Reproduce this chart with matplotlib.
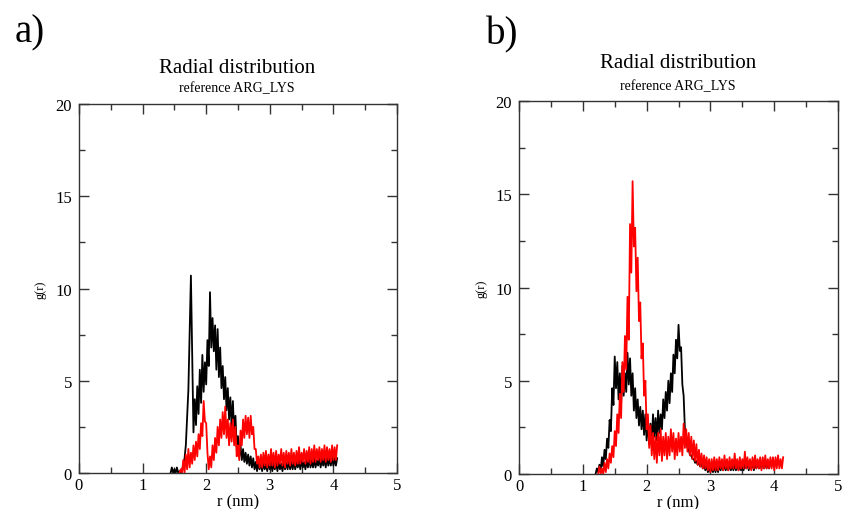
import numpy as np
import matplotlib
matplotlib.use("Agg")
import matplotlib.pyplot as plt

plt.rcParams["font.family"] = ["Liberation Serif", "DejaVu Serif"]

STEP = 0.02

# panel a) black curve, starts at r = 1.44
a_black_start = 1.44
a_black = [
    0.0, 0.3, 0.0, 0.2, 0.0, 0.3, 0.0, 0.1, 0.0, 0.2,
    0.4, 0.8, 1.5, 3.0, 4.5, 7.5, 10.7, 6.5, 2.2, 4.0,
    2.6, 4.7, 3.2, 5.6, 3.8, 6.4, 4.4, 6.0, 4.8, 7.2,
    5.8, 9.8, 6.8, 8.4, 6.6, 8.0, 5.6, 7.8, 5.2, 6.8,
    4.6, 5.8, 4.0, 5.2, 3.4, 4.6, 2.9, 4.1, 2.5, 3.9,
    2.1, 3.1, 1.4, 2.0, 0.9, 1.5, 0.7, 1.3, 0.6, 1.1,
    0.5, 1.0, 0.4, 0.9, 0.3, 0.8, 0.2, 0.6, 0.1, 0.6,
    0.2, 0.6, 0.1, 0.6, 0.2, 0.5, 0.1, 0.6, 0.2, 0.6,
    0.1, 0.5, 0.2, 0.6, 0.1, 0.6, 0.2, 0.5, 0.1, 0.6,
    0.2, 0.6, 0.2, 0.7, 0.2, 0.6, 0.2, 0.7, 0.2, 0.6,
    0.3, 0.7, 0.2, 0.7, 0.3, 0.6, 0.2, 0.7, 0.3, 0.8,
    0.3, 0.7, 0.3, 0.8, 0.3, 0.7, 0.4, 0.8, 0.3, 0.8,
    0.4, 0.8, 0.3, 0.9, 0.4, 0.8, 0.4, 0.9, 0.4, 0.8,
    0.4, 0.8,
]

# panel a) red curve, starts at r = 1.58
a_red_start = 1.58
a_red = [
    0.0, 0.2, 0.0, 0.7, 0.0, 1.0, 0.2, 1.3, 0.3, 1.1,
    0.5, 1.5, 0.7, 1.7, 0.9, 2.1, 1.3, 2.7, 2.0, 3.9,
    2.8, 2.7, 1.1, 0.2, 0.9, 0.3, 1.5, 0.7, 1.9, 1.1,
    2.5, 1.5, 2.9, 1.9, 3.3, 2.1, 3.6, 1.9, 2.9, 1.5,
    2.7, 1.7, 2.9, 1.5, 2.5, 0.9, 1.5, 0.7, 2.3, 1.5,
    2.9, 1.9, 3.1, 2.1, 3.0, 1.9, 3.1, 2.1, 2.5, 1.3,
    1.3, 0.5, 0.9, 0.3, 1.0, 0.3, 1.1, 0.4, 1.2, 0.3,
    1.0, 0.4, 1.3, 0.4, 1.1, 0.3, 1.2, 0.4, 1.0, 0.5,
    1.3, 0.4, 1.1, 0.3, 1.2, 0.5, 1.1, 0.4, 1.3, 0.5,
    1.1, 0.4, 1.2, 0.5, 1.4, 0.5, 1.1, 0.6, 1.3, 0.5,
    1.2, 0.6, 1.4, 0.5, 1.3, 0.6, 1.5, 0.6, 1.3, 0.7,
    1.4, 0.6, 1.3, 0.7, 1.5, 0.6, 1.4, 0.7, 1.3, 0.6,
    1.5, 0.7, 1.4, 0.7, 1.5,
]

# panel b) black curve, starts at r = 1.20
b_black_start = 1.20
b_black = [
    0.0, 0.3, 0.1, 0.5, 0.2, 0.9, 0.4, 1.3, 0.8, 1.9,
    1.4, 2.9, 2.3, 4.6, 3.7, 6.3, 4.6, 6.0, 4.0, 5.4,
    3.8, 5.8, 4.2, 5.4, 4.4, 6.5, 4.8, 6.2, 4.2, 5.4,
    3.4, 4.6, 3.0, 4.0, 2.6, 3.6, 2.4, 3.4, 2.1, 3.2,
    1.8, 2.9, 1.6, 2.7, 1.7, 3.2, 2.0, 3.0, 1.8, 3.4,
    2.2, 3.2, 2.4, 4.0, 3.0, 4.4, 3.4, 5.0, 3.8, 5.4,
    4.4, 6.4, 5.4, 7.2, 6.2, 8.0, 6.6, 6.8, 4.8, 4.2,
    2.4, 2.0, 1.4, 1.3, 1.0, 1.0, 0.8, 0.8, 0.6, 0.7,
    0.5, 0.6, 0.4, 0.6, 0.3, 0.5, 0.2, 0.5, 0.1, 0.4,
    0.1, 0.4, 0.1, 0.4, 0.1, 0.5, 0.1, 0.5, 0.2, 0.5,
    0.2, 0.5, 0.2, 0.5, 0.2, 0.6, 0.2, 0.5, 0.2, 0.6,
    0.2, 0.6, 0.2, 0.5, 0.2, 0.6, 0.2, 0.6, 0.3, 0.6,
    0.2, 0.6, 0.3, 0.7, 0.2, 0.6, 0.3, 0.7, 0.3, 0.6,
    0.3, 0.7, 0.3, 0.7, 0.3, 0.6, 0.3, 0.6,
]

# panel b) red curve, starts at r = 1.24
b_red_start = 1.24
b_red = [
    0.0, 0.4, 0.0, 0.3, 0.0, 0.6, 0.1, 0.8, 0.3, 1.1,
    0.6, 1.5, 0.9, 2.3, 1.5, 3.2, 2.2, 4.3, 3.0, 6.0,
    4.4, 7.4, 5.6, 9.5, 7.2, 13.4, 10.8, 15.7, 12.2, 13.2,
    9.8, 11.6, 8.2, 9.2, 6.2, 7.0, 4.2, 5.0, 2.4, 3.2,
    1.4, 2.6, 1.0, 2.2, 0.8, 2.0, 0.6, 2.2, 1.0, 2.4,
    0.7, 2.0, 1.0, 2.2, 0.8, 2.0, 1.0, 2.4, 1.2, 2.2,
    0.8, 1.9, 1.0, 2.2, 1.2, 2.0, 1.0, 2.7, 1.4, 2.4,
    1.2, 2.2, 1.0, 2.0, 0.8, 1.8, 0.7, 1.6, 0.5, 1.3,
    0.4, 1.1, 0.3, 1.0, 0.3, 0.9, 0.2, 0.8, 0.1, 0.8,
    0.2, 0.9, 0.2, 0.8, 0.2, 0.9, 0.3, 0.8, 0.2, 1.0,
    0.3, 0.8, 0.2, 0.9, 0.3, 0.8, 0.3, 1.1, 0.3, 0.8,
    0.2, 0.9, 0.3, 0.8, 0.3, 1.2, 0.3, 0.9, 0.3, 0.8,
    0.2, 0.9, 0.3, 1.0, 0.3, 0.8, 0.3, 0.9, 0.2, 0.9,
    0.3, 1.0, 0.3, 0.8, 0.3, 0.9, 0.3, 0.9, 0.2, 0.9,
    0.3, 1.0, 0.3, 0.8, 0.3, 0.9,
]

x_ticks = [0, 1, 2, 3, 4, 5]
y_ticks = [0, 5, 10, 15, 20]
title = "Radial distribution"
subtitle = "reference ARG_LYS"


def r_grid(start, vals):
    return start + STEP * np.arange(len(vals))


def style_axes(ax):
    ax.set_xlim(0, 5)
    ax.set_ylim(0, 20)
    ax.set_xticks(x_ticks)
    ax.set_yticks(y_ticks)
    ax.set_xticks([0.5, 1.5, 2.5, 3.5, 4.5], minor=True)
    ax.set_yticks([2.5, 7.5, 12.5, 17.5], minor=True)
    ax.tick_params(which="both", direction="in", top=True, right=True,
                   labelsize=12, width=1, color="#333333")
    ax.tick_params(axis="x", pad=3)
    ax.tick_params(axis="y", pad=5)
    ax.tick_params(which="major", length=7)
    ax.tick_params(which="minor", length=4)
    for s in ax.spines.values():
        s.set_linewidth(1.0)
        s.set_color("#333333")
    ax.set_xlabel("r (nm)", fontsize=12, labelpad=0)
    ax.set_ylabel("g(r)", fontsize=9, labelpad=6)


fig = plt.figure(figsize=(8.43, 5.10), dpi=100)

ax1 = fig.add_axes([0.0937, 0.0706, 0.3772, 0.7235])
ax1.plot(r_grid(a_black_start, a_black), a_black, color="black", lw=1.3)
ax1.plot(r_grid(a_red_start, a_red), a_red, color="red", lw=1.3)
style_axes(ax1)

ax2 = fig.add_axes([0.6157, 0.0686, 0.3784, 0.7314])
ax2.plot(r_grid(b_black_start, b_black), b_black, color="black", lw=1.3)
ax2.plot(r_grid(b_red_start, b_red), b_red, color="red", lw=1.3)
style_axes(ax2)

fig.text(0.281, 0.866, title, ha="center", va="center", fontsize=15)
fig.text(0.281, 0.826, subtitle, ha="center", va="center", fontsize=10)
fig.text(0.804, 0.876, title, ha="center", va="center", fontsize=15)
fig.text(0.804, 0.830, subtitle, ha="center", va="center", fontsize=10)
fig.text(0.035, 0.935, "a)", ha="center", va="center", fontsize=28)
fig.text(0.596, 0.931, "b)", ha="center", va="center", fontsize=28)

fig.savefig("out.png", dpi=100)
